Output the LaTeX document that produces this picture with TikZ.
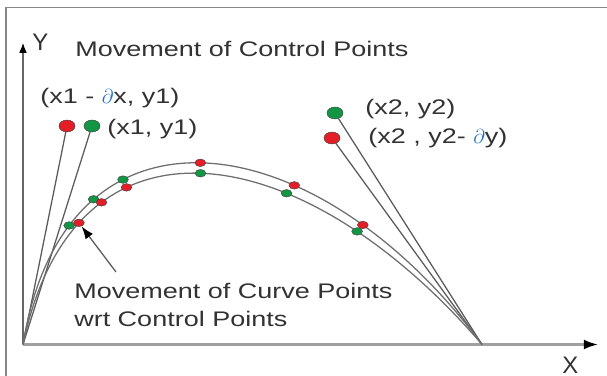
\documentclass[tikz,border=0pt]{standalone}
\usepackage{fontspec}
\setmainfont{Liberation Sans}[FakeStretch=1.28]
\newfontfamily\axisfont{Liberation Sans}
\usetikzlibrary{arrows.meta}
\usetikzlibrary{shapes.geometric}

\definecolor{dotred}{RGB}{228,30,38}
\definecolor{dotgreen}{RGB}{18,150,68}
\definecolor{linegray}{RGB}{90,90,90}
\definecolor{curvegray}{RGB}{110,110,110}
\definecolor{axisgray}{RGB}{160,160,160}
\definecolor{framegray}{RGB}{135,135,135}
\definecolor{txtgray}{RGB}{50,50,50}
\definecolor{partblue}{RGB}{30,110,200}

\newcommand{\dpart}{\textcolor{partblue}{$\partial$}}

\begin{document}
\begin{tikzpicture}[x=0.025cm, y=0.025cm,
  dot/.style={ellipse, fill=#1, draw=black!75, line width=0.3pt, inner sep=0pt,
    minimum width=0.27cm, minimum height=0.19cm},
  ctrl/.style={dot=#1, minimum width=0.4cm, minimum height=0.3cm},
  curve/.style={curvegray, line width=0.9pt},
  ctrlline/.style={linegray, line width=0.9pt},
  lbl/.style={anchor=base west, inner sep=0pt, text=txtgray,
    font=\fontsize{15}{18}\selectfont},
  axlbl/.style={anchor=base west, inner sep=0pt, text=txtgray,
    font=\axisfont\fontsize{17}{20}\selectfont}]
\useasboundingbox (0,0) rectangle (607,376);

% frame
\draw[framegray, line width=1.4pt] (6,0) -- (6,368.5) -- (607,368.5);

\coordinate (O) at (23,31.5);
\coordinate (E) at (482,31.5);
\coordinate (Xtip) at (598,31.5);
\coordinate (Ytip) at (23,333);

% axes
\draw[axisgray, line width=1.6pt, -{Latex[black, length=10pt, width=7pt]}] (O) -- (Xtip);
\draw[black!60, line width=0.8pt, -{Latex[black, length=7pt, width=5.5pt]}] (O) -- (Ytip);
\node[axlbl] (ylbl) at (32,325) {Y};
\node[axlbl] (xlbl) at (562,3) {X};

% control points
\node[ctrl=dotred] (R1) at (67,250) {};
\node[ctrl=dotgreen] (G1) at (92,250) {};
\node[ctrl=dotgreen] (G2) at (335,263) {};
\node[ctrl=dotred] (R2) at (332,238) {};

\draw[ctrlline] (O) -- (R1);
\draw[ctrlline] (O) -- (G1);
\draw[ctrlline] (E) -- (G2);
\draw[ctrlline] (E) -- (R2);

% the two curves
\draw[curve] (O) .. controls (65,291) and (315,256) .. (E)
  coordinate[pos=0.195] (og1) coordinate[pos=0.262] (og2) coordinate[pos=0.332] (og3)
  coordinate[pos=0.49] (or4) coordinate[pos=0.66] (or5) coordinate[pos=0.78] (or6);
\draw[curve] (O) .. controls (75,281) and (305,238) .. (E)
  coordinate[pos=0.215] (ir1) coordinate[pos=0.275] (ir2) coordinate[pos=0.335] (ir3)
  coordinate[pos=0.49] (ig4) coordinate[pos=0.65] (ig5) coordinate[pos=0.775] (ig6);

\foreach \c in {og1,og2,og3,ig4,ig5,ig6}
  \node[dot=dotgreen] (\c-dot) at (\c) {};
\foreach \c in {ir1,ir2,ir3,or4,or5,or6}
  \node[dot=dotred] (\c-dot) at (\c) {};

% labels
\node[lbl] (title) at (75,319) {Movement of Control Points};
\node[lbl] (r1lbl) at (40,272) {(x1 - \dpart x, y1)};
\node[lbl] (g1lbl) at (107,241) {(x1, y1)};
\node[lbl] (g2lbl) at (365,261) {(x2, y2)};
\node[lbl] (r2lbl) at (368,232) {(x2 , y2- \dpart y)};
\node[lbl] (crvlbl) at (74,77) {Movement of Curve Points};
\node[lbl] (wrtlbl) at (74,50) {wrt Control Points};

\coordinate (ptail) at (116,104);
\draw[linegray, line width=0.9pt, -{Latex[black, length=9pt, width=6.5pt]}] (ptail) -- (ir1-dot);
\end{tikzpicture}
\end{document}
